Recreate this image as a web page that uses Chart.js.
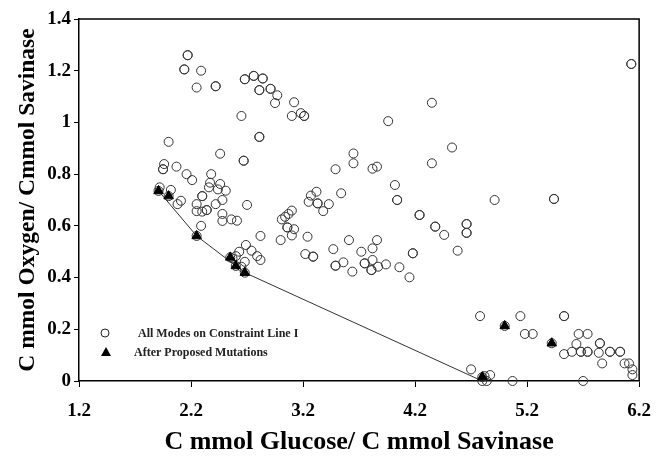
<!DOCTYPE html>
<html>
<head>
<meta charset="utf-8">
<script src="https://cdn.jsdelivr.net/npm/chart.js@4"></script>
<style>
  html, body { margin: 0; padding: 0; background: #fff; }
  #wrap { width: 664px; height: 466px; }
</style>
</head>
<body>
<div id="wrap"><canvas id="modesChart"></canvas></div>
<script>
// [C glucose / C savinase, C oxygen / C savinase]; repeated pairs are overlapping modes
const modePoints = [
  [2.17, 1.26], [2.17, 1.26], [2.14, 1.205], [2.14, 1.205], [2.29, 1.2], [2.25, 1.135],
  [2.42, 1.14], [2.42, 1.14], [2.68, 1.167], [2.68, 1.167], [2.76, 1.18], [2.76, 1.18],
  [2.84, 1.17], [2.84, 1.17], [2.81, 1.125], [2.81, 1.125], [2.91, 1.13], [2.91, 1.13],
  [2.97, 1.105], [2.95, 1.075], [3.12, 1.078], [3.1, 1.025], [3.18, 1.036], [3.21, 1.025],
  [3.21, 1.025], [2.65, 1.025], [2.81, 0.944], [2.81, 0.944], [2.0, 0.925], [2.46, 0.879],
  [2.67, 0.852], [2.67, 0.852], [1.96, 0.839], [1.95, 0.819], [1.95, 0.819], [2.07, 0.829],
  [2.16, 0.8], [2.21, 0.777], [2.38, 0.8], [2.37, 0.767], [2.36, 0.749], [2.46, 0.762],
  [2.44, 0.741], [2.51, 0.736], [1.92, 0.749], [2.02, 0.739], [2.11, 0.697], [2.08, 0.684],
  [2.3, 0.715], [2.3, 0.715], [2.25, 0.684], [2.25, 0.657], [2.3, 0.655], [2.34, 0.661],
  [2.34, 0.661], [2.42, 0.684], [2.48, 0.7], [2.7, 0.681], [2.48, 0.646], [2.48, 0.619],
  [2.56, 0.625], [2.61, 0.62], [2.29, 0.6], [2.82, 0.561], [2.69, 0.526], [2.63, 0.5],
  [2.74, 0.504], [2.79, 0.483], [2.82, 0.468], [2.6, 0.483], [2.57, 0.474], [2.65, 0.442],
  [2.68, 0.461], [3.49, 0.819], [3.65, 0.88], [3.65, 0.842], [3.82, 0.821], [3.86, 0.829],
  [4.02, 0.758], [4.04, 0.7], [4.04, 0.7], [4.24, 0.642], [4.24, 0.642], [3.54, 0.726],
  [3.32, 0.732], [3.27, 0.717], [3.25, 0.693], [3.33, 0.687], [3.33, 0.687], [3.43, 0.684],
  [3.38, 0.657], [3.1, 0.659], [3.07, 0.646], [3.04, 0.635], [3.01, 0.625], [3.06, 0.594],
  [3.06, 0.594], [3.12, 0.587], [3.1, 0.563], [3.24, 0.558], [3.0, 0.545], [3.22, 0.491],
  [3.29, 0.481], [3.29, 0.481], [3.61, 0.545], [3.47, 0.51], [3.49, 0.446], [3.49, 0.446],
  [3.56, 0.459], [3.64, 0.423], [3.72, 0.5], [3.82, 0.513], [3.86, 0.545], [3.82, 0.468],
  [3.75, 0.455], [3.75, 0.455], [3.81, 0.429], [3.81, 0.429], [3.87, 0.442], [3.94, 0.451],
  [4.06, 0.44], [4.15, 0.401], [4.18, 0.494], [4.18, 0.494], [4.35, 1.076], [3.96, 1.005],
  [4.53, 0.903], [4.35, 0.842], [4.91, 0.7], [5.44, 0.704], [5.44, 0.704], [4.38, 0.597],
  [4.38, 0.597], [4.46, 0.565], [4.66, 0.607], [4.66, 0.607], [4.66, 0.573], [4.66, 0.573],
  [4.58, 0.504], [6.13, 1.226], [6.13, 1.226], [4.78, 0.251], [5.14, 0.251], [5.18, 0.182],
  [5.25, 0.182], [5.53, 0.251], [5.53, 0.251], [5.66, 0.182], [5.74, 0.182], [5.64, 0.143],
  [5.85, 0.146], [5.85, 0.146], [5.53, 0.104], [5.6, 0.113], [5.68, 0.113], [5.68, 0.113],
  [5.74, 0.113], [5.74, 0.113], [5.84, 0.109], [5.94, 0.113], [5.94, 0.113], [6.03, 0.113],
  [6.03, 0.113], [5.87, 0.068], [6.07, 0.068], [6.11, 0.068], [6.14, 0.045], [6.14, 0.023],
  [4.7, 0.045], [4.82, 0.019], [4.87, 0.023], [4.8, 0.0], [4.84, 0.0], [5.07, 0.0], [5.7, 0.0],
  [1.91, 0.735], [2.0, 0.715], [2.25, 0.561], [2.55, 0.478], [2.6, 0.445], [2.68, 0.419],
  [4.8, 0.015], [5.0, 0.213], [5.42, 0.146],
];

const mutationPoints = [
  [1.91, 0.735], [2.0, 0.715], [2.25, 0.561], [2.55, 0.478], [2.6, 0.445], [2.68, 0.419],
  [4.8, 0.015], [5.0, 0.213], [5.42, 0.146],
];

// lower boundary drawn through the mutation points
const boundaryPoints = [[1.91, 0.735], [2.25, 0.561], [2.68, 0.419], [4.8, 0.0]];

const xTicks = [1.2, 2.2, 3.2, 4.2, 5.2, 6.2];
const yTicks = [0, 0.2, 0.4, 0.6, 0.8, 1.0, 1.2, 1.4];

const legendLabels = ["All Modes on Constraint Line I", "After Proposed Mutations"];

const toXY = (pts) => pts.map(([x, y]) => ({ x, y }));
const serif = '"Liberation Serif", "Times New Roman", serif';

// box around the plot and the legend inside it
const framePlugin = {
  id: "frame",
  afterDatasetsDraw(chart) {
    const { ctx, chartArea: a } = chart;
    ctx.save();
    ctx.strokeStyle = "#000";
    ctx.lineWidth = 1.5;
    ctx.beginPath();
    ctx.moveTo(a.left, a.top);
    ctx.lineTo(a.right, a.top);
    ctx.lineTo(a.right, a.bottom);
    ctx.stroke();

    const lx = a.left + 26;
    const ly1 = a.top + 314;
    const ly2 = a.top + 333;
    ctx.lineWidth = 1;
    ctx.strokeStyle = "#222";
    ctx.beginPath();
    ctx.arc(lx, ly1, 4, 0, Math.PI * 2);
    ctx.stroke();
    ctx.fillStyle = "#000";
    ctx.beginPath();
    ctx.moveTo(lx + 1, ly2 - 5);
    ctx.lineTo(lx + 6, ly2 + 4);
    ctx.lineTo(lx - 4, ly2 + 4);
    ctx.closePath();
    ctx.fill();

    ctx.font = "bold 12px " + serif;
    ctx.fillStyle = "#222";
    ctx.textBaseline = "middle";
    ctx.fillText(legendLabels[0], lx + 33, ly1 + 1);
    ctx.fillText(legendLabels[1], lx + 29, ly2 + 1);
    ctx.restore();
  },
};

new Chart(document.getElementById("modesChart"), {
  type: "scatter",
  data: {
    datasets: [
      {
        label: legendLabels[1],
        data: toXY(mutationPoints),
        pointStyle: "triangle",
        pointRadius: 5.5,
        backgroundColor: "#000",
        borderColor: "#000",
        borderWidth: 1,
        clip: false,
      },
      {
        label: legendLabels[0],
        data: toXY(modePoints),
        pointStyle: "circle",
        pointRadius: 4.5,
        backgroundColor: "transparent",
        borderColor: "#333",
        borderWidth: 1,
        clip: false,
      },
      {
        label: "boundary",
        data: toXY(boundaryPoints),
        showLine: true,
        pointRadius: 0,
        borderColor: "#333",
        borderWidth: 1,
      },
    ],
  },
  options: {
    responsive: true,
    maintainAspectRatio: false,
    animation: false,
    layout: { padding: { top: 19, right: 23, left: 0, bottom: 0 } },
    plugins: {
      legend: { display: false },
      tooltip: { enabled: false },
    },
    scales: {
      x: {
        type: "linear",
        min: 1.2,
        max: 6.2,
        afterBuildTicks: (scale) => {
          scale.ticks = xTicks.map((value) => ({ value }));
        },
        afterFit: (scale) => {
          scale.height = 85;
        },
        border: { color: "#000", width: 1.5 },
        grid: { drawOnChartArea: false, tickLength: 6, color: "#000" },
        ticks: {
          color: "#000",
          padding: 13,
          font: { family: serif, size: 19, weight: "bold" },
          callback: (v) => v.toFixed(1),
        },
        title: {
          display: true,
          text: "C mmol Glucose/ C mmol Savinase",
          color: "#000",
          padding: { top: 0, bottom: 8 },
          font: { family: serif, size: 26, weight: "bold" },
        },
      },
      y: {
        min: 0,
        max: 1.4,
        afterBuildTicks: (scale) => {
          scale.ticks = yTicks.map((value) => ({ value }));
        },
        afterFit: (scale) => {
          scale.width = 79;
        },
        border: { color: "#000", width: 1.5 },
        grid: { drawOnChartArea: false, tickLength: 5, color: "#000" },
        ticks: {
          color: "#000",
          padding: 3,
          font: { family: serif, size: 19, weight: "bold" },
          callback: (v) => String(+v.toFixed(1)),
        },
        title: {
          display: true,
          text: "C mmol Oxygen/ Cmmol Savinase",
          color: "#000",
          padding: { top: 14, bottom: 0 },
          font: { family: serif, size: 23.5, weight: "bold" },
        },
      },
    },
  },
  plugins: [framePlugin],
});
</script>
</body>
</html>
